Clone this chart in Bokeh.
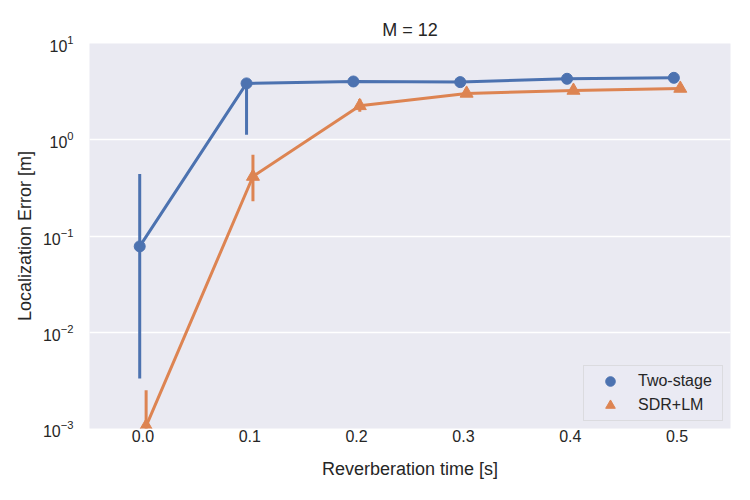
from bokeh.plotting import figure
from bokeh.models import Range1d, FactorRange, Legend, LegendItem, ColumnDataSource
from bokeh.transform import dodge
from bokeh.embed import file_html
from bokeh.resources import INLINE

# ---- data ----
rt_labels = ["0.0", "0.1", "0.2", "0.3", "0.4", "0.5"]

two_stage = [0.078, 3.85, 4.03, 3.97, 4.30, 4.40]
two_stage_lo = [0.0033, 1.13, 3.90, 3.85, 4.18, 4.28]
two_stage_hi = [0.44, 4.30, 4.15, 4.08, 4.42, 4.52]

sdr_lm = [0.00106, 0.415, 2.25, 3.03, 3.25, 3.41]
sdr_lm_lo = [0.0001, 0.229, 1.95, 2.90, 3.12, 3.28]
sdr_lm_hi = [0.0025, 0.70, 2.65, 3.16, 3.38, 3.55]

series_names = ["Two-stage", "SDR+LM"]
colors = ["#4C72B0", "#DD8452"]
FONT = "Liberation Sans"
TXT = "#262626"

p = figure(width=734, height=484,
           x_range=FactorRange(*rt_labels, range_padding=0),
           y_range=Range1d(1e-3, 10), y_axis_type="log",
           output_backend="svg", toolbar_location=None,
           min_border_left=89, min_border_right=4,
           min_border_top=43, min_border_bottom=56,
           title="M = 12")

p.background_fill_color = "#EAEAF2"
p.border_fill_color = "white"
p.outline_line_color = None

p.title.align = "center"
p.title.text_font = FONT
p.title.text_font_size = "18px"
p.title.text_font_style = "normal"
p.title.text_color = TXT
p.title.standoff = 8

p.xgrid.visible = False
p.ygrid.grid_line_color = "white"
p.ygrid.grid_line_width = 1.3

for ax in (p.xaxis[0], p.yaxis[0]):
    ax.axis_line_color = None
    ax.major_tick_line_color = None
    ax.minor_tick_line_color = None
    ax.major_tick_in = 0
    ax.major_tick_out = 0
    ax.minor_tick_out = 0
    ax.minor_tick_in = 0
    ax.major_label_text_font = FONT
    ax.major_label_text_font_size = "16px"
    ax.major_label_text_color = TXT
    ax.axis_label_text_font = FONT
    ax.axis_label_text_font_size = "18px"
    ax.axis_label_text_font_style = "normal"
    ax.axis_label_text_color = TXT

p.xaxis.axis_label = "Reverberation time [s]"
p.yaxis.axis_label = "Localization Error [m]"
p.xaxis.major_label_standoff = 1
p.xaxis.axis_label_standoff = 14
p.yaxis.major_label_standoff = 16
p.yaxis.axis_label_standoff = 5

srcs = [
    ColumnDataSource(dict(x=rt_labels, y=two_stage, lo=two_stage_lo, hi=two_stage_hi)),
    ColumnDataSource(dict(x=rt_labels, y=sdr_lm, lo=sdr_lm_lo, hi=sdr_lm_hi)),
]
offsets = [-0.03, 0.03]
markers = ["circle", "triangle"]
sizes = [11, 13]

marker_renderers = []
for src, off, col, mk, sz in zip(srcs, offsets, colors, markers, sizes):
    xd = dodge("x", off, range=p.x_range)
    p.segment(x0=xd, y0="lo", x1=xd, y1="hi", source=src,
              line_color=col, line_width=3)
    p.line(x=xd, y="y", source=src, line_color=col, line_width=3)
    r = p.scatter(x=xd, y="y", source=src, marker=mk, size=sz,
                  fill_color=col, line_color=col)
    marker_renderers.append(r)

legend = Legend(items=[LegendItem(label=n, renderers=[r])
                       for n, r in zip(series_names, marker_renderers)],
                location="bottom_right")
legend.label_text_font = FONT
legend.label_text_font_size = "16px"
legend.label_text_color = TXT
legend.background_fill_color = "#EAEAF2"
legend.background_fill_alpha = 0.8
legend.border_line_color = "#CCCCCC"
legend.border_line_width = 1
legend.glyph_width = 46
legend.glyph_height = 24
legend.label_height = 24
legend.label_width = 81
legend.label_standoff = 5
legend.padding = 3
legend.spacing = 0
legend.margin = 7
p.add_layout(legend)

open("out.html", "w").write(file_html(p, INLINE))
